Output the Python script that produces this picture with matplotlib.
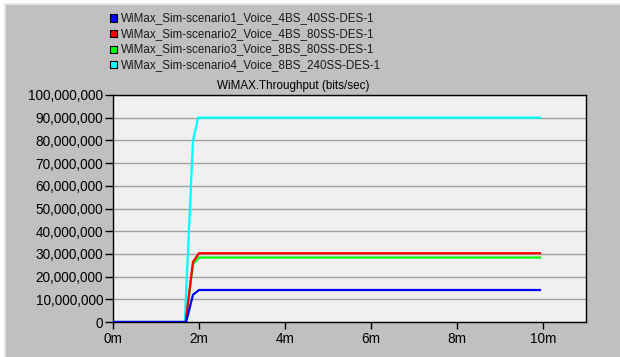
import matplotlib
matplotlib.use("Agg")
import matplotlib.pyplot as plt
from matplotlib.patches import Rectangle
from matplotlib.ticker import FuncFormatter

plt.rcParams['font.family'] = ['Liberation Sans', 'DejaVu Sans']

# series (time in minutes, throughput in bits/sec)
labels = [
    "WiMax_Sim-scenario1_Voice_4BS_40SS-DES-1",
    "WiMax_Sim-scenario2_Voice_4BS_80SS-DES-1",
    "WiMax_Sim-scenario3_Voice_8BS_80SS-DES-1",
    "WiMax_Sim-scenario4_Voice_8BS_240SS-DES-1",
]
colors = ["#0000ff", "#ff0000", "#00ff00", "#00ffff"]

t_s1 = [0, 1.70, 1.86, 2.0, 9.93]
v_s1 = [0, 0, 12.0e6, 14.1e6, 14.1e6]
t_s2 = [0, 1.69, 1.86, 2.0, 9.93]
v_s2 = [0, 0, 26.5e6, 30.3e6, 30.3e6]
t_s3 = [0, 1.69, 1.86, 2.0, 9.93]
v_s3 = [0, 0, 25.5e6, 28.4e6, 28.4e6]
t_s4 = [0, 1.67, 1.86, 1.98, 9.93]
v_s4 = [0, 0, 80.0e6, 90.0e6, 90.0e6]

xticks = [0, 2, 4, 6, 8, 10]
yticks = [i * 10e6 for i in range(11)]

fs = 8.4
tfs = 9.8

fig = plt.figure(figsize=(6.2, 3.57), dpi=100)
fig.patch.set_facecolor("white")
# grey panel like the OPNET window
fig.patches.append(Rectangle((6 / 620, 0), 1, 1 - 5 / 357, transform=fig.transFigure,
                             facecolor="#c0c0c0", edgecolor="none", zorder=-10))
fig.patches.append(Rectangle((4 / 620, 0), 2 / 620, 1 - 3 / 357, transform=fig.transFigure,
                             facecolor="#e4e4e4", edgecolor="none", zorder=-10))
fig.patches.append(Rectangle((4 / 620, 1 - 5 / 357), 1, 2 / 357, transform=fig.transFigure,
                             facecolor="#e4e4e4", edgecolor="none", zorder=-10))

ax = fig.add_axes([113 / 620, 35 / 357, 473 / 620, 227 / 357])
ax.set_facecolor("#f0f0f0")

series = [(t_s4, v_s4, 3), (t_s3, v_s3, 2), (t_s2, v_s2, 1), (t_s1, v_s1, 0)]
for t, v, i in series:
    ax.plot(t, v, color=colors[i], lw=1.6, zorder=3)

ax.set_xlim(0, 11)
ax.set_ylim(0, 100e6)
ax.set_xticks(xticks)
ax.set_xticklabels([f"{x}m" for x in xticks])
ax.set_yticks(yticks)
ax.yaxis.set_major_formatter(FuncFormatter(lambda v, p: f"{int(round(v)):,}"))
ax.grid(axis="y", color="#a0a0a0", lw=1)
ax.set_axisbelow(True)
for s in ax.spines.values():
    s.set_color("black")
    s.set_linewidth(1)
ax.tick_params(direction="out", length=6, width=1, labelsize=tfs, colors="black", pad=1)
ax.tick_params(axis="x", length=5, pad=2)

fig.text(217 / 620, 1 - 86 / 357, "WiMAX.Throughput (bits/sec)", fontsize=fs,
         ha="left", va="center")

# legend
for i, lab in enumerate(labels):
    y = 1 - (18 + 15.6 * i) / 357
    fig.patches.append(Rectangle((110 / 620, y - 3.5 / 357), 7 / 620, 7 / 357,
                                 transform=fig.transFigure, facecolor=colors[i],
                                 edgecolor="black", lw=0.8, zorder=2))
    fig.text(121 / 620, y, lab, fontsize=fs, ha="left", va="center", color="#1a1a1a")

fig.savefig("out.png", dpi=100)
